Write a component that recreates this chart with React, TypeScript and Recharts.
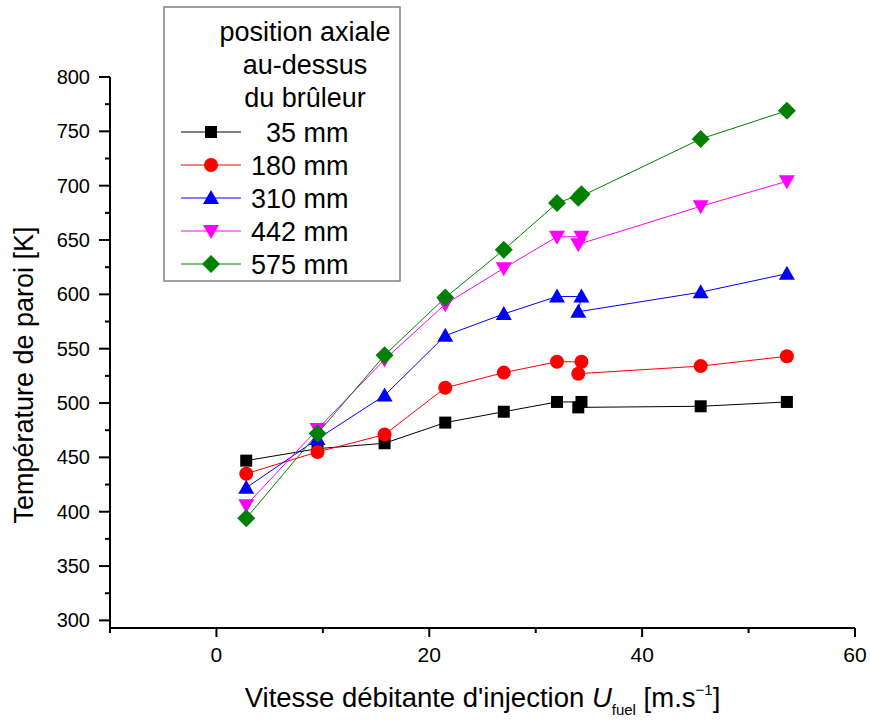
import React from "react";
import { LineChart, Line, XAxis, YAxis, Legend, Label } from "recharts";

// vitesse débitante (m/s) — points 7 and 8 are two runs near 34 m/s
const speeds = [2.8, 9.5, 15.8, 21.5, 27.0, 32.0, 34.3, 34.0, 45.5, 53.6];
const t35 = [447, 458, 463, 482, 492, 501, 501, 496, 497, 501];
const t180 = [435, 455, 471, 514, 528, 538, 538, 527, 534, 543];
const t310 = [422, 467, 507, 562, 582, 598, 598, 584, 602, 619];
const t442 = [406, 476, 540, 591, 624, 653, 653, 646, 681, 704];
const t575 = [394, 472, 544, 597, 641, 684, 692, 689, 743, 769];

const xTicks = [-10, 0, 10, 20, 30, 40, 50, 60];
const yTicks = [300, 325, 350, 375, 400, 425, 450, 475, 500, 525, 550, 575, 600, 625, 650, 675, 700, 725, 750, 775, 800];
const legendTitle = ["position axiale", "au-dessus", "du brûleur"];

const series = [
  { name: "35 mm", color: "#000000", shape: "square", values: t35 },
  { name: "180 mm", color: "#ff0000", shape: "circle", values: t180 },
  { name: "310 mm", color: "#0000ff", shape: "up", values: t310 },
  { name: "442 mm", color: "#ff00ff", shape: "down", values: t442 },
  { name: "575 mm", color: "#008000", shape: "diamond", values: t575 },
];

const FONT = '"Liberation Sans", Arial, sans-serif';

function Marker({ cx, cy, shape, color }: any) {
  if (cx == null || cy == null) return null;
  if (shape === "square") return <rect x={cx - 6} y={cy - 6} width={12} height={12} fill={color} />;
  if (shape === "circle") return <circle cx={cx} cy={cy} r={7} fill={color} />;
  if (shape === "up")
    return <polygon points={`${cx},${cy - 8} ${cx - 8},${cy + 6} ${cx + 8},${cy + 6}`} fill={color} />;
  if (shape === "down")
    return <polygon points={`${cx},${cy + 8} ${cx - 8},${cy - 6} ${cx + 8},${cy - 6}`} fill={color} />;
  return <polygon points={`${cx},${cy - 9} ${cx + 9},${cy} ${cx},${cy + 9} ${cx - 9},${cy}`} fill={color} />;
}

function XTick({ x, y, payload }: any) {
  const major = payload.value % 20 === 0;
  return (
    <g>
      <line x1={x} y1={y} x2={x} y2={y + (major ? 9 : 5)} stroke="#000" strokeWidth={2} />
      {major && (
        <text x={x} y={y + 34} textAnchor="middle" fontFamily={FONT} fontSize={21} fill="#000">
          {payload.value}
        </text>
      )}
    </g>
  );
}

function YTick({ x, y, payload }: any) {
  const major = payload.value % 50 === 0;
  return (
    <g>
      <line x1={x} y1={y} x2={x - (major ? 11 : 5)} y2={y} stroke="#000" strokeWidth={2} />
      {major && (
        <text x={x - 20} y={y + 7} textAnchor="end" fontFamily={FONT} fontSize={20} fill="#000">
          {payload.value}
        </text>
      )}
    </g>
  );
}

function XTitle({ viewBox }: any) {
  const cx = viewBox.x + viewBox.width / 2;
  return (
    <text x={cx} y={707} textAnchor="middle" fontFamily={FONT} fontSize={27.5} fill="#000">
      Vitesse débitante d'injection <tspan fontStyle="italic">U</tspan>
      <tspan fontSize={15} dy={8}>fuel</tspan>
      <tspan dy={-8}> [m.s</tspan>
      <tspan fontSize={15} dy={-12}>−1</tspan>
      <tspan dy={12}>]</tspan>
    </text>
  );
}

function YTitle() {
  return (
    <text
      x={33}
      y={375}
      transform="rotate(-90 33 375)"
      textAnchor="middle"
      fontFamily={FONT}
      fontSize={27}
      fill="#000"
    >
      Température de paroi [K]
    </text>
  );
}

function LegendBox() {
  return (
    <svg width={238} height={276} style={{ display: "block" }}>
      <rect x={1} y={1} width={236} height={274} fill="#fff" stroke="#808080" strokeWidth={1.5} />
      {legendTitle.map((t, i) => (
        <text key={t} x={142} y={35 + i * 33} textAnchor="middle" fontFamily={FONT} fontSize={27} fill="#000">
          {t}
        </text>
      ))}
      {series.map((s, i) => {
        const cy = 126 + i * 33;
        return (
          <g key={s.name}>
            <line x1={18} y1={cy} x2={78} y2={cy} stroke={s.color} strokeWidth={1} />
            <Marker cx={48} cy={cy} shape={s.shape} color={s.color} />
            <text x={i === 0 ? 103 : 88} y={cy + 10} fontFamily={FONT} fontSize={27} fill="#000">
              {s.name}
            </text>
          </g>
        );
      })}
    </svg>
  );
}

export default function App() {
  return (
    <div style={{ position: "absolute", left: 0, top: 0, width: 870, height: 722, background: "#fff" }}>
      <LineChart width={870} height={722} margin={{ top: 77, right: 15, bottom: 64, left: 50 }}>
        <XAxis
          type="number"
          dataKey="x"
          domain={[-10, 60]}
          ticks={xTicks}
          allowDataOverflow
          tick={<XTick />}
          tickLine={false}
          tickSize={0}
          tickMargin={0}
          height={30}
          axisLine={{ stroke: "#000", strokeWidth: 2 }}
        >
          <Label content={<XTitle />} />
        </XAxis>
        <YAxis
          type="number"
          domain={[293, 800]}
          ticks={yTicks}
          allowDataOverflow
          tick={<YTick />}
          tickLine={false}
          tickSize={0}
          tickMargin={0}
          width={60}
          axisLine={{ stroke: "#000", strokeWidth: 2 }}
        >
          <Label content={<YTitle />} />
        </YAxis>
        <Legend
          layout="vertical"
          align="center"
          verticalAlign="middle"
          content={() => <LegendBox />}
          wrapperStyle={{ position: "absolute", left: 163, top: 6, width: 238, height: 276 }}
        />
        {series.map((s) => (
          <Line
            key={s.name}
            name={s.name}
            data={speeds.map((x, i) => ({ x, y: s.values[i] }))}
            dataKey="y"
            stroke={s.color}
            strokeWidth={1}
            isAnimationActive={false}
            dot={(p: any) => <Marker key={p.index} cx={p.cx} cy={p.cy} shape={s.shape} color={s.color} />}
            activeDot={false}
          />
        ))}
      </LineChart>
    </div>
  );
}
